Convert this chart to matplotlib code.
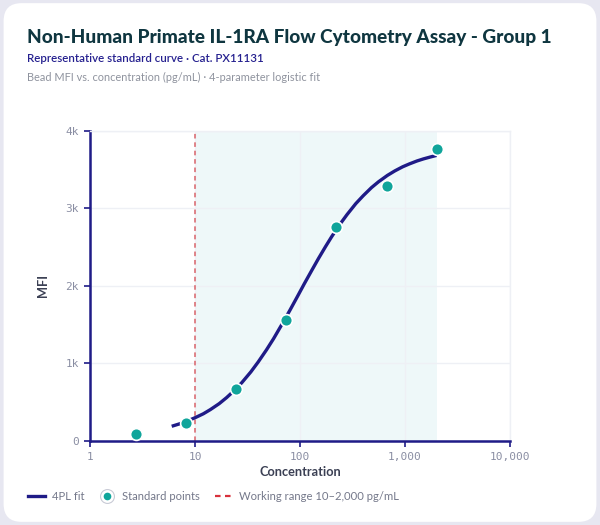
import matplotlib
matplotlib.use("Agg")
import matplotlib.pyplot as plt
from matplotlib.patches import FancyBboxPatch
from matplotlib.lines import Line2D
from matplotlib.ticker import FixedLocator

# standard points (3-fold dilution series)
std_conc = [2.74, 8.23, 24.7, 74.1, 222, 667, 2000]
std_mfi = [90, 230, 670, 1560, 2760, 3290, 3770]

# 4PL fit curve, sampled off the chart
fit_conc = [6, 7, 8, 10, 12, 14, 17, 20, 24, 28, 34, 40, 48, 56, 67, 80, 95, 110, 130,
            150, 175, 200, 240, 280, 340, 400, 480, 560, 680, 800, 950, 1100, 1300,
            1500, 1750, 2000]
fit_mfi = [190, 218, 245, 300, 351, 405, 482, 560, 659, 755, 891, 1020, 1177, 1320, 1501,
           1685, 1870, 2030, 2206, 2355, 2508, 2635, 2796, 2920, 3063, 3165, 3270, 3345,
           3427, 3485, 3538, 3575, 3613, 3640, 3665, 3685]

range_lo, range_hi = 10, 2000
x_ticks = [1, 10, 100, 1000, 10000]
x_labels = ["1", "10", "100", "1,000", "10,000"]
y_ticks = [0, 1000, 2000, 3000, 4000]
y_labels = ["0", "1k", "2k", "3k", "4k"]

NAVY = "#1f1b87"
TEAL = "#10a59b"
RED = "#d9646a"
FONT = ["Lato", "DejaVu Sans"]

fig = plt.figure(figsize=(6, 5.25), dpi=100)
fig.patch.set_facecolor("#e7e7f1")
card = FancyBboxPatch((0.006, 0.006), 0.988, 0.988, boxstyle="round,pad=0,rounding_size=0.03",
                      transform=fig.transFigure, facecolor="white", edgecolor="none",
                      mutation_aspect=600 / 525, zorder=-10)
fig.patches.append(card)

fig.text(0.045, 0.928, "Non-Human Primate IL-1RA Flow Cytometry Assay - Group 1",
         family=FONT, fontsize=13.7, fontweight="black", color="#0f3640", va="center")
fig.text(0.045, 0.888, "Representative standard curve \u00b7 Cat. PX11131",
         family=FONT, fontsize=8.3, fontweight="semibold", color="#25208f", va="center")
fig.text(0.045, 0.852, "Bead MFI vs. concentration (pg/mL) \u00b7 4-parameter logistic fit",
         family=FONT, fontsize=7.9, color="#8f939e", va="center")

ax = fig.add_axes([0.15, 0.16, 0.70, 0.5905])
ax.set_xscale("log")
ax.set_xlim(1, 10000)
ax.set_ylim(0, 4000)

ax.axvspan(range_lo, range_hi, color="#eef8f9", zorder=0, lw=0)
ax.axvline(range_lo, color=RED, lw=1.1, ls=(0, (3, 2.5)), zorder=2)
ax.plot(fit_conc, fit_mfi, color=NAVY, lw=2.4, zorder=3, solid_capstyle="butt",
        solid_joinstyle="round")
ax.plot(std_conc, std_mfi, "o", ms=8.5, color=TEAL, mec="white", mew=1.2, zorder=4,
        clip_on=False)

ax.xaxis.set_major_locator(FixedLocator(x_ticks))
ax.xaxis.set_minor_locator(FixedLocator([]))
ax.set_xticks(x_ticks, x_labels)
ax.set_yticks(y_ticks, y_labels)
ax.grid(True, color="#eef0f5", lw=1, zorder=0)
ax.set_axisbelow(True)

for side in ("top", "right"):
    ax.spines[side].set_color("#eef0f5")
    ax.spines[side].set_linewidth(1)
for side in ("left", "bottom"):
    ax.spines[side].set_color(NAVY)
    ax.spines[side].set_linewidth(1.8)

ax.tick_params(axis="both", length=4, width=1.2, color=NAVY, labelsize=8,
               labelcolor="#8a8ea3", pad=4)
for lab in ax.get_xticklabels() + ax.get_yticklabels():
    lab.set_family("DejaVu Sans Mono")

ax.set_xlabel("Concentration", family=FONT, fontsize=9.2, fontweight="bold", color="#3b4054", labelpad=3)
ax.set_ylabel("MFI", family=FONT, fontsize=9.2, fontweight="bold", color="#3b4054", labelpad=12)

ring = Line2D([], [], ls="none", marker="o", ms=10, color="white", mec="#c9cbd6", mew=0.8)
dot = Line2D([], [], ls="none", marker="o", ms=5.5, color=TEAL, mec=TEAL, mew=0)
handles = [
    Line2D([], [], color=NAVY, lw=2.4),
    (ring, dot),
    Line2D([], [], color="#d8313c", lw=1.6, ls=(0, (2.5, 2))),
]
labels = ["4PL fit", "Standard points", "Working range 10\u20132,000 pg/mL"]
leg = fig.legend(handles, labels, loc="center left", bbox_to_anchor=(0.03, 0.055), ncol=3,
                 frameon=False, handlelength=1.5, handletextpad=0.6, columnspacing=1.3,
                 prop={"family": FONT, "size": 8.1})
for t in leg.get_texts():
    t.set_color("#74788a")

fig.savefig("out.png", dpi=100, facecolor=fig.get_facecolor())
